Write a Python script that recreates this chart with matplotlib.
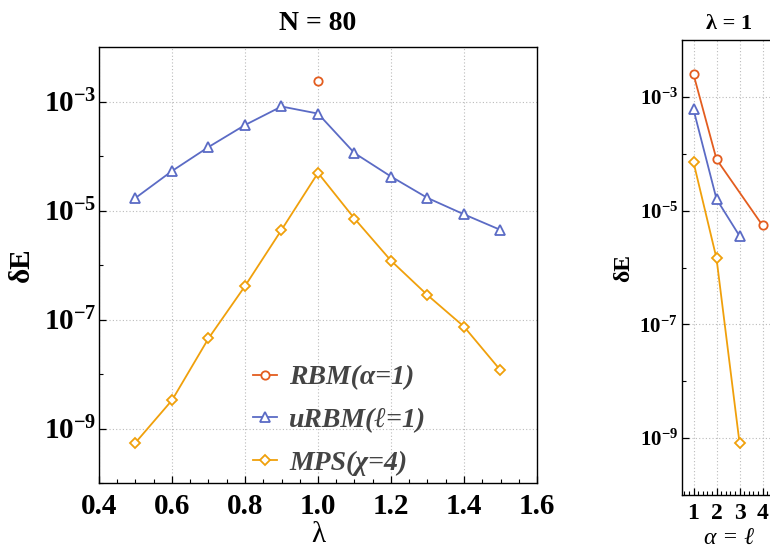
import matplotlib
matplotlib.use("Agg")
import matplotlib.pyplot as plt
import numpy as np
from matplotlib.ticker import MultipleLocator, NullFormatter, FixedLocator, FuncFormatter

plt.rcParams['font.family'] = ['Liberation Serif', 'DejaVu Serif']
plt.rcParams['mathtext.fontset'] = 'custom'
plt.rcParams['mathtext.rm'] = 'Liberation Serif'
plt.rcParams['mathtext.bf'] = 'Liberation Serif:bold'
plt.rcParams['mathtext.it'] = 'Liberation Serif:italic'

# ---- data: left panel (N = 80) ----
lam = [0.5, 0.6, 0.7, 0.8, 0.9, 1.0, 1.1, 1.2, 1.3, 1.4, 1.5]
urbm_lam = [1.7e-5, 5.3e-5, 1.46e-4, 3.7e-4, 8.1e-4, 6.0e-4, 1.13e-4, 4.2e-5, 1.7e-5, 8.5e-6, 4.4e-6]
mps_lam = [5.5e-10, 3.3e-9, 4.5e-8, 4.1e-7, 4.4e-6, 4.9e-5, 7.1e-6, 1.2e-6, 2.8e-7, 7.4e-8, 1.17e-8]
rbm_lam_x = [1.0]
rbm_lam = [2.4e-3]
x_ticks_left = [0.4, 0.6, 0.8, 1.0, 1.2, 1.4, 1.6]
x_ticklabels_left = ['0.4', '0.6', '0.8', '1.0', '1.2', '1.4', '1.6']

# ---- data: right panel (lambda = 1) ----
rbm_alpha = [1, 2, 4]
rbm_vals = [2.5e-3, 8.0e-5, 5.5e-6]
urbm_ell = [1, 2, 3]
urbm_vals = [6.0e-4, 1.6e-5, 3.6e-6]
mps_x = [1, 2, 3]
mps_vals = [7.1e-5, 1.45e-6, 8.3e-10]
x_ticks_right = [1, 2, 3, 4]
x_ticklabels_right = ['1', '2', '3', '4']

labels = ['RBM(α=1)', 'uRBM(ℓ=1)', 'MPS(χ=4)']
c_rbm = '#E35D1F'
c_urbm = '#5B6BC5'
c_mps = '#F0A00B'

fig = plt.figure(figsize=(7.70, 5.54), dpi=100)
ax = fig.add_axes([99/770, (554-483)/554, 438/770, 436/554])
ax2 = fig.add_axes([682/770, (554-495)/554, 94.3/770, 455/554])

mk = dict(markerfacecolor='white', markeredgewidth=1.3, linewidth=1.3)

def pow_fmt(v, pos):
    e = int(round(np.log10(v)))
    return r'$\mathbf{10^{%d}}$' % e

def style_axes(a, fs_y, ypad):
    a.set_yscale('log')
    a.set_ylim(1e-10, 1e-2)
    a.yaxis.set_major_locator(FixedLocator([1e-9, 1e-7, 1e-5, 1e-3]))
    a.yaxis.set_major_formatter(FuncFormatter(pow_fmt))
    a.yaxis.set_minor_locator(FixedLocator([1e-10, 1e-8, 1e-6, 1e-4]))
    a.yaxis.set_minor_formatter(NullFormatter())
    a.tick_params(axis='both', which='both', direction='in', top=False, right=False)
    a.tick_params(axis='both', which='major', length=5, width=0.9)
    a.tick_params(axis='both', which='minor', length=3, width=0.8)
    a.tick_params(axis='y', labelsize=fs_y, pad=ypad)
    for s in a.spines.values():
        s.set_linewidth(1.0)
        s.set_color('black')
    a.grid(True, which='major', color='#BBBBBB', linestyle=(0, (1, 2)), linewidth=0.8)

# left panel
ax.plot(rbm_lam_x, rbm_lam, marker='o', markersize=6, color=c_rbm, label=labels[0], **mk)
ax.plot(lam, urbm_lam, marker='^', markersize=7.5, color=c_urbm, label=labels[1], **mk)
ax.plot(lam, mps_lam, marker='D', markersize=5.5, color=c_mps, label=labels[2], **mk)
style_axes(ax, 21, 2)
ax.set_xlim(0.4, 1.6)
ax.set_xticks(x_ticks_left)
ax.set_xticklabels(x_ticklabels_left, fontsize=21, fontweight='bold')
ax.xaxis.set_minor_locator(MultipleLocator(0.05))
ax.tick_params(axis='x', pad=7)
ax.set_title('N = 80', fontsize=20, fontweight='bold', pad=12)
ax.set_xlabel('λ', fontsize=21, labelpad=2)
ax.set_ylabel('δE', fontsize=21, fontweight='bold', labelpad=6)

leg = ax.legend(loc='upper left', bbox_to_anchor=(253/770, (554-365)/554), bbox_transform=fig.transFigure,
                frameon=False, handlelength=0.85, handletextpad=0.45, labelspacing=0.62,
                borderpad=0, borderaxespad=0,
                prop={'family': 'Liberation Serif', 'style': 'italic', 'weight': 'bold', 'size': 20})
for t in leg.get_texts():
    t.set_color('#444444')

# right panel
ax2.plot(rbm_alpha, rbm_vals, marker='o', markersize=6, color=c_rbm, **mk)
ax2.plot(urbm_ell, urbm_vals, marker='^', markersize=7.5, color=c_urbm, **mk)
ax2.plot(mps_x, mps_vals, marker='D', markersize=5.5, color=c_mps, **mk)
style_axes(ax2, 15, 3)
ax2.set_xlim(0.5, 4.6)
ax2.set_xticks(x_ticks_right)
ax2.set_xticklabels(x_ticklabels_right, fontsize=17, fontweight='bold')
ax2.xaxis.set_minor_locator(MultipleLocator(0.2))
ax2.tick_params(axis='x', pad=6)
ax2.set_title('λ = 1', fontsize=16, fontweight='bold', pad=8)
ax2.set_xlabel('α = ℓ', fontsize=17, style='italic', labelpad=3)
ax2.set_ylabel('δE', fontsize=17, fontweight='bold', labelpad=4)

fig.savefig('out.png', dpi=100)
